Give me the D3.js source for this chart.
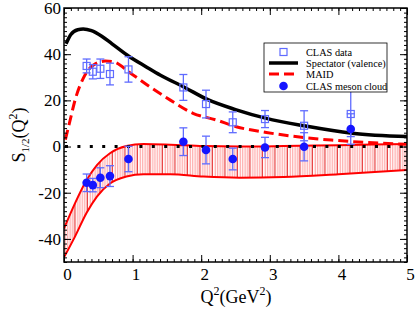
<!DOCTYPE html>
<html>
<head>
<meta charset="utf-8">
<script src="https://cdn.jsdelivr.net/npm/d3@7"></script>
<style>
  body { margin: 0; background: #fff; }
  text { font-family: "Liberation Serif", "Times New Roman", serif; }
</style>
</head>
<body>
<div id="chart"></div>
<script>
// CLAS data (open squares) and meson cloud estimate (filled circles)
const clasQ2 = [0.33, 0.42, 0.53, 0.67, 0.94, 1.74, 2.07, 2.46, 2.93, 3.5, 4.18];
const clasS = [34.9, 32.4, 33.7, 31.4, 33.4, 25.6, 18.4, 10.5, 11.9, 9.0, 14.1];
const clasErr = [3.0, 3.1, 4.2, 4.7, 5.5, 5.6, 6.0, 4.5, 3.7, 6.5, 9.8];
const mesonS = [-15.7, -16.7, -13.5, -12.8, -5.4, 2.1, -1.5, -5.4, -0.4, -0.1, 7.6];
const mesonErr = [3.8, 2.9, 4.3, 4.5, 5.5, 6.0, 6.0, 4.7, 4.4, 6.1, 6.6];

// Spectator (valence) curve
const specQ2 = [0.03, 0.1, 0.2, 0.28, 0.4, 0.55, 0.7, 0.95, 1.2, 1.4, 1.76, 2.09, 2.5, 2.95, 3.5, 4.2, 5];
const specS = [44.5, 48.5, 50.6, 50.9, 50.2, 47.8, 44.5, 39, 34.5, 31, 25.6, 20.4, 16, 12.2, 9, 5.8, 4.3];

// MAID curve
const maidQ2 = [0.02, 0.09, 0.16, 0.28, 0.43, 0.6, 0.72, 0.96, 1.25, 1.55, 1.88, 2.22, 2.51, 2.95, 3.53, 3.9, 4.4, 5];
const maidS = [3, 11.5, 20, 29.5, 35.3, 37, 36.7, 32, 25.9, 20.1, 14.4, 11.5, 8.6, 6.1, 3.8, 2.8, 1.8, 1.0];

// meson cloud band (upper / lower edges)
const bandQ2 = [0, 0.16, 0.33, 0.48, 0.67, 0.91, 1.16, 1.55, 2.03, 2.56, 3.2, 4, 5];
const bandUp = [-35.5, -24.6, -14.5, -8, -2.9, 0.2, 1.1, 0.8, 0.2, 0, 0.2, 0.6, 1.1];
const bandLo = [-48, -39, -28.7, -21.7, -16, -13, -12, -12, -13, -13.5, -13.2, -12, -10.2];

const xTicks = [0, 1, 2, 3, 4, 5];
const yTicks = [-40, -20, 0, 20, 40, 60];

const width = 415, height = 310;
const margin = { top: 8, right: 8, bottom: 48, left: 64 };

const svg = d3.select("#chart").append("svg")
    .attr("width", width)
    .attr("height", height);

const x = d3.scaleLinear().domain([0, 5]).range([margin.left, width - margin.right]);
const y = d3.scaleLinear().domain([-50, 60]).range([height - margin.bottom, margin.top]);

const blue = "#1515ff";
const lightBlue = "#5f6bff";

// hatch pattern for the band
const defs = svg.append("defs");
const pat = defs.append("pattern")
    .attr("id", "hatch")
    .attr("patternUnits", "userSpaceOnUse")
    .attr("x", x(0))
    .attr("width", 12.5)
    .attr("height", 10);
[1.2, 3.6, 6.0, 8.4].forEach(px => {
  pat.append("line").attr("x1", px).attr("x2", px).attr("y1", 0).attr("y2", 10)
     .attr("stroke", "#ff8a8a").attr("stroke-width", 0.9);
});
pat.append("line").attr("x1", 10.8).attr("x2", 10.8).attr("y1", 0).attr("y2", 10)
   .attr("stroke", "#e00000").attr("stroke-width", 1);

defs.append("clipPath").attr("id", "clip")
  .append("rect")
    .attr("x", x(0)).attr("y", y(60))
    .attr("width", x(5) - x(0)).attr("height", y(-50) - y(60));

const plot = svg.append("g").attr("clip-path", "url(#clip)");

const band = bandQ2.map((q, i) => ({ q, up: bandUp[i], lo: bandLo[i] }));
const area = d3.area()
    .x(d => x(d.q)).y0(d => y(d.lo)).y1(d => y(d.up))
    .curve(d3.curveMonotoneX);
plot.append("path").datum(band)
    .attr("d", area)
    .attr("fill", "url(#hatch)");

const lineOf = (key) => d3.line().x(d => x(d.q)).y(d => y(d[key])).curve(d3.curveMonotoneX);
plot.append("path").datum(band).attr("d", lineOf("up"))
    .attr("fill", "none").attr("stroke", "#ff0000").attr("stroke-width", 2);
plot.append("path").datum(band).attr("d", lineOf("lo"))
    .attr("fill", "none").attr("stroke", "#ff0000").attr("stroke-width", 2);

// zero dotted line
plot.append("line")
    .attr("x1", x(0) + 1).attr("x2", x(5))
    .attr("y1", y(0)).attr("y2", y(0))
    .attr("stroke", "#000").attr("stroke-width", 3)
    .attr("stroke-dasharray", "3,9.4");

// spectator line
const spec = specQ2.map((q, i) => ({ q, v: specS[i] }));
plot.append("path").datum(spec)
    .attr("d", lineOf("v"))
    .attr("fill", "none").attr("stroke", "#000").attr("stroke-width", 3.5);

// MAID
const maid = maidQ2.map((q, i) => ({ q, v: maidS[i] }));
plot.append("path").datum(maid)
    .attr("d", lineOf("v"))
    .attr("fill", "none").attr("stroke", "#ff0000").attr("stroke-width", 3)
    .attr("stroke-dasharray", "10,5");

// error bars helper
function errorBars(vals, errs, color) {
  const g = plot.append("g").attr("stroke", color).attr("stroke-width", 1.3);
  clasQ2.forEach((q, i) => {
    const cx = x(q), top = y(vals[i] + errs[i]), bot = y(vals[i] - errs[i]);
    g.append("line").attr("x1", cx).attr("x2", cx).attr("y1", top).attr("y2", bot);
    g.append("line").attr("x1", cx - 4).attr("x2", cx + 4).attr("y1", top).attr("y2", top);
    g.append("line").attr("x1", cx - 4).attr("x2", cx + 4).attr("y1", bot).attr("y2", bot);
  });
}

errorBars(clasS, clasErr, lightBlue);
plot.selectAll(".sq").data(clasQ2).join("rect")
    .attr("x", (d) => x(d) - 3.5)
    .attr("y", (d, i) => y(clasS[i]) - 3.5)
    .attr("width", 7).attr("height", 7)
    .attr("fill", "none").attr("stroke", lightBlue).attr("stroke-width", 1.2);

errorBars(mesonS, mesonErr, lightBlue);
plot.selectAll(".dot").data(clasQ2).join("circle")
    .attr("cx", d => x(d))
    .attr("cy", (d, i) => y(mesonS[i]))
    .attr("r", 4.3)
    .attr("fill", blue);

// axes with inward ticks
const x0 = x(0), x1 = x(5), yB = y(-50), yT = y(60);
const minorX = d3.range(0, 5.001, 0.1);
const minorY = d3.range(-50, 60.001, 2);

function styleAxis(g) {
  g.select(".domain").remove();
  g.selectAll("line").attr("stroke", "#000");
}

svg.append("g").attr("transform", `translate(0,${yB})`)
  .call(d3.axisBottom(x).tickValues(minorX).tickSize(-3).tickFormat(""))
  .call(styleAxis);
svg.append("g").attr("transform", `translate(0,${yT})`)
  .call(d3.axisTop(x).tickValues(minorX).tickSize(-3).tickFormat(""))
  .call(styleAxis);
svg.append("g").attr("transform", `translate(${x0},0)`)
  .call(d3.axisLeft(y).tickValues(minorY).tickSize(-3).tickFormat(""))
  .call(styleAxis);
svg.append("g").attr("transform", `translate(${x1},0)`)
  .call(d3.axisRight(y).tickValues(minorY).tickSize(-3).tickFormat(""))
  .call(styleAxis);

const xAx = svg.append("g").attr("transform", `translate(0,${yB})`)
  .call(d3.axisBottom(x).tickValues(xTicks).tickSize(-7).tickPadding(6).tickFormat(d => String(d)))
  .call(styleAxis);
xAx.selectAll("text").attr("font-size", 17).attr("fill", "#000").attr("dx", 3)
  .attr("font-family", "Liberation Serif");
svg.append("g").attr("transform", `translate(0,${yT})`)
  .call(d3.axisTop(x).tickValues(xTicks).tickSize(-7).tickFormat(""))
  .call(styleAxis);

const yAx = svg.append("g").attr("transform", `translate(${x0},0)`)
  .call(d3.axisLeft(y).tickValues(yTicks).tickSize(-7).tickPadding(3).tickFormat(d => String(d)))
  .call(styleAxis);
yAx.selectAll("text").attr("font-size", 17).attr("fill", "#000")
  .attr("font-family", "Liberation Serif");
svg.append("g").attr("transform", `translate(${x1},0)`)
  .call(d3.axisRight(y).tickValues(yTicks).tickSize(-7).tickFormat(""))
  .call(styleAxis);

// frame
svg.append("rect")
    .attr("x", x0).attr("y", yT)
    .attr("width", x1 - x0).attr("height", yB - yT)
    .attr("fill", "none").attr("stroke", "#000").attr("stroke-width", 1.5);

// axis titles
const xt = svg.append("text")
    .attr("x", 236).attr("y", 303)
    .attr("text-anchor", "middle").attr("font-size", 18);
xt.append("tspan").text("Q");
xt.append("tspan").text("2").attr("font-size", 12).attr("dy", -8);
xt.append("tspan").text("(GeV").attr("dy", 8);
xt.append("tspan").text("2").attr("font-size", 12).attr("dy", -8);
xt.append("tspan").text(")").attr("dy", 8);

const yt = svg.append("text")
    .attr("transform", "translate(25,135) rotate(-90)")
    .attr("text-anchor", "middle").attr("font-size", 18);
yt.append("tspan").text("S");
yt.append("tspan").text("1/2").attr("font-size", 11).attr("dy", 4);
yt.append("tspan").text("(Q").attr("dy", -4);
yt.append("tspan").text("2").attr("font-size", 12).attr("dy", -8);
yt.append("tspan").text(")").attr("dy", 8);

// legend
const leg = svg.append("g");
leg.append("rect")
    .attr("x", 264).attr("y", 43).attr("width", 123).attr("height", 49)
    .attr("fill", "#fff").attr("stroke", "#000").attr("stroke-width", 0.8);
const legItems = ["CLAS data", "Spectator (valence)", "MAID", "CLAS meson cloud"];
const legY = [52, 63, 74, 86];
legItems.forEach((t, i) => {
  leg.append("text").attr("x", 306).attr("y", legY[i] + 3.5)
     .attr("font-size", 10.3).text(t);
});
leg.append("rect").attr("x", 280).attr("y", legY[0] - 3.5).attr("width", 7).attr("height", 7)
   .attr("fill", "none").attr("stroke", lightBlue).attr("stroke-width", 1.2);
leg.append("line").attr("x1", 269).attr("x2", 298).attr("y1", legY[1]).attr("y2", legY[1])
   .attr("stroke", "#000").attr("stroke-width", 3.5);
leg.append("line").attr("x1", 269).attr("x2", 298).attr("y1", legY[2]).attr("y2", legY[2])
   .attr("stroke", "#ff0000").attr("stroke-width", 3).attr("stroke-dasharray", "10,5");
leg.append("circle").attr("cx", 283.5).attr("cy", legY[3]).attr("r", 4.3).attr("fill", blue);
</script>
</body>
</html>
